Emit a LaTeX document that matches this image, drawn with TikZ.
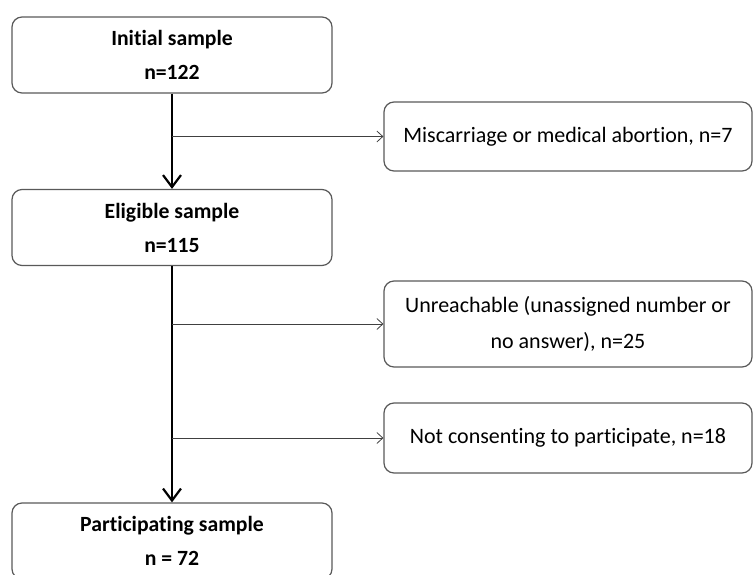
\documentclass[tikz,border=0pt]{standalone}
\usepackage{fontspec}
\setmainfont{Carlito}[Ligatures=NoCommon]
\usetikzlibrary{arrows.meta,positioning}

\begin{document}
\begin{tikzpicture}[x=1pt,y=-1pt]
\tikzset{box/.style = {draw=black!65, line width=1.2pt, rounded corners=10pt, align=center, inner sep=0pt},
mainbox/.style = {minimum width=320pt, minimum height=76pt, font=\fontsize{21.7}{34}\selectfont\bfseries},
sidebox/.style = {minimum width=368pt, font=\fontsize{22}{36}\selectfont},
edge/.style = {-{Straight Barb[length=12pt,width=18pt]}, line width=2.2pt},
sideedge/.style = {-{Straight Barb[length=6pt,width=11pt]}, line width=0.8pt, draw=black!75}}
\useasboundingbox (0,0) rectangle (753,574);
\clip (0,0) rectangle (753,574);
%main column
\node[box,mainbox] (init) at (172,55) {Initial sample\\n=122};
\node[box,mainbox] (elig) at (172,227.5) {Eligible sample\\n=115};
\node[box,mainbox] (part) at (172,541) {Participating sample\\n = 72};
%exclusions
\node[box,sidebox,minimum height=69pt] (miss) at (568,136.5) {Miscarriage or medical abortion, n=7};
\node[box,sidebox,minimum height=86pt] (unre) at (568,324) {Unreachable (unassigned number or\\no answer), n=25};
\node[box,sidebox,minimum height=70pt] (cons) at (568,438) {Not consenting to participate, n=18};
%flow
\draw[edge] (init) -- (elig);
\draw[edge] (elig) -- (part);
\draw[sideedge] (init.south |- miss.west) -- (miss.west);
\draw[sideedge] (elig.south |- unre.west) -- (unre.west);
\draw[sideedge] (elig.south |- cons.west) -- (cons.west);
\end{tikzpicture}
\end{document}
